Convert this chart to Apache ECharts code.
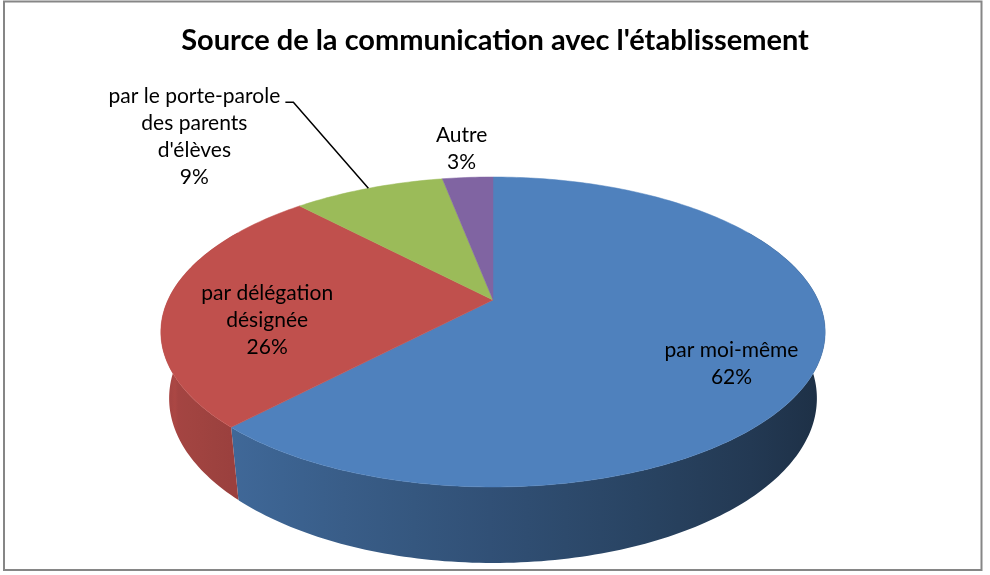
<!DOCTYPE html>
<html><head><meta charset="utf-8">
<script src="https://cdn.jsdelivr.net/npm/echarts@6/dist/echarts.min.js"></script>
<style>html,body{margin:0;padding:0;background:#fff}#chart{width:990px;height:575px}</style>
</head><body><div id="chart"></div>
<script>
const titleText = "Source de la communication avec l'établissement";
const categories = ['par moi-même', 'par délégation désignée', "par le porte-parole des parents d'élèves", 'Autre'];
const labelTexts = ['par moi-même', 'par délégation\ndésignée', "par le porte-parole\ndes parents\nd'élèves", 'Autre'];
const values = [62, 26, 9, 3];
const colors = ['#4F81BD', '#C0504D', '#9BBB59', '#8064A2'];

const total = values.reduce((a, b) => a + b, 0);
const starts = [];
let acc = 0;
values.forEach(v => { starts.push(acc); acc += v; });

// 3D perspective geometry (style settings)
const G = { cx: 493, cy: 300, R: 325, sinA: 0.4566, cosA: 0.8897, D: 1401, H: 75 };
function proj(deg, r, w) {
  const t = deg * Math.PI / 180;
  const u = r * Math.sin(t), v = r * Math.cos(t);
  const depth = v * G.cosA - w * G.sinA;
  const s = G.D / (G.D + depth);
  return [G.cx + u * s, G.cy - (v * G.sinA + w * G.cosA) * s];
}
function shade(hex, f) {
  const n = parseInt(hex.slice(1), 16);
  const r = Math.round(((n >> 16) & 255) * f), g = Math.round(((n >> 8) & 255) * f), b = Math.round((n & 255) * f);
  return 'rgb(' + r + ',' + g + ',' + b + ')';
}
function light(deg) { return 0.62 - 0.27 * Math.sin(deg * Math.PI / 180); }

// label placement settings (radial fraction, height fraction)
const labelLayout = [
  { k: 0.75, w: -0.3 },
  { k: 0.70, w: -0.3 },
  { k: 1.0, w: 0, leader: true },
  { k: 1.3, w: 0 }
];

function renderItem(params, api) {
  const i = params.dataIndex;
  const val = api.value(0), st = api.value(1);
  const a = st / total * 360, b = (st + val) / total * 360;
  const color = colors[i];
  const children = [];
  const step = 1;
  // top face
  const top = [[G.cx, G.cy]];
  for (let d = a; d < b; d += step) top.push(proj(d, G.R, 0));
  top.push(proj(b, G.R, 0));
  children.push({ type: 'polygon', z2: 10, shape: { points: top }, style: { fill: color, stroke: color, lineWidth: 0.5 } });
  // side wall
  const wa = Math.max(a, 60), wb = Math.min(b, 300);
  if (wb > wa) {
    const upper = [], lower = [], stops = [];
    for (let d = wa; d < wb; d += step) { upper.push(proj(d, G.R, 0)); lower.push(proj(d, G.R, -G.H)); }
    upper.push(proj(wb, G.R, 0)); lower.push(proj(wb, G.R, -G.H));
    const pts = upper.concat(lower.reverse());
    const xs = pts.map(p => p[0]);
    const xmin = Math.min.apply(null, xs), xmax = Math.max.apply(null, xs);
    const ga = Math.max(wa, 95), gb = Math.min(wb, 275);
    for (let d = ga; d <= gb + 0.001; d += (gb - ga) / 12 || 1) {
      const x = proj(d, G.R, 0)[0];
      stops.push({ offset: Math.min(1, Math.max(0, (x - xmin) / (xmax - xmin))), color: shade(color, light(d)) });
    }
    stops.sort((p, q) => p.offset - q.offset);
    children.push({ type: 'polygon', z2: 1, shape: { points: pts },
      style: { fill: { type: 'linear', x: xmin, y: 0, x2: xmax, y2: 0, global: true, colorStops: stops } } });
  }
  // label
  const mid = (a + b) / 2;
  const L = labelLayout[i];
  const pct = Math.round(val / total * 100) + '%';
  let p = proj(mid, G.R * L.k, G.H * L.w);
  if (L.leader) {
    const e = p;
    const elbow = [e[0] - 75, e[1] - 86];
    const end = [elbow[0] - 8, elbow[1]];
    children.push({ type: 'polyline', z2: 20, shape: { points: [e, elbow, end] }, style: { stroke: '#000', lineWidth: 1.5, fill: null } });
    p = [e[0] - 174, e[1] - 52];
  }
  children.push({ type: 'text', z2: 30, x: p[0], y: p[1],
    style: { text: labelTexts[i] + '\n' + pct, fill: '#000', align: 'center', verticalAlign: 'middle',
      fontFamily: 'Lato', fontSize: 21, lineHeight: 27 } });
  return { type: 'group', children: children };
}

const chart = echarts.init(document.getElementById('chart'), null, { renderer: 'canvas' });
chart.setOption({
  backgroundColor: '#fff',
  animation: false,
  title: { text: titleText, left: 'center', top: 21,
    textStyle: { fontFamily: 'Lato', fontWeight: 'bold', fontSize: 29, color: '#000' } },
  graphic: [{ type: 'rect', shape: { x: 4, y: 1.5, width: 977.5, height: 568.5 },
    style: { fill: 'none', stroke: '#868686', lineWidth: 2 }, z: -1 }],
  series: [{
    type: 'custom',
    coordinateSystem: 'none',
    renderItem: renderItem,
    data: values.map((v, i) => ({ name: categories[i], value: [v, starts[i]] }))
  }]
});
</script></body></html>
